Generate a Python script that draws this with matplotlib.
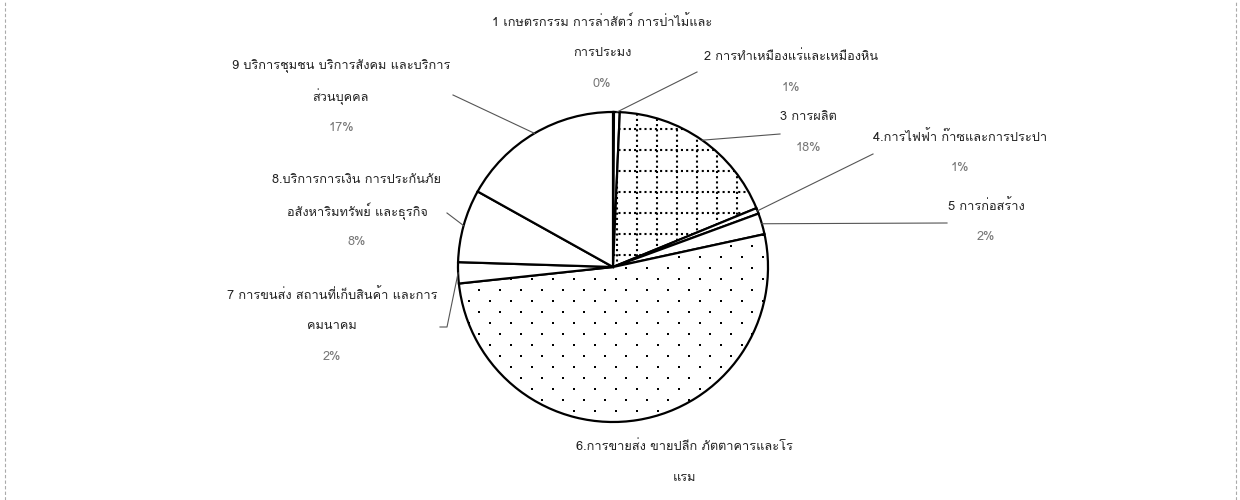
"""
Pie chart: share of establishments by industry group (Thai scanned report figure).
"""

import matplotlib
matplotlib.use("Agg")
import matplotlib.pyplot as plt
import numpy as np
from matplotlib import font_manager, ft2font

# ---- data -------------------------------------------------------------
sectors = [
	"1 เกษตรกรรม การล่าสัตว์ การป่าไม้และ\nการประมง",
	"2 การทำเหมืองแร่และเหมืองหิน",
	"3 การผลิต",
	"4.การไฟฟ้า ก๊าซและการประปา",
	"5 การก่อสร้าง",
	"6.การขายส่ง ขายปลีก ภัตตาคารและโร\nแรม",
	"7 การขนส่ง สถานที่เก็บสินค้า และการ\nคมนาคม",
	"8.บริการการเงิน การประกันภัย\nอสังหาริมทรัพย์ และธุรกิจ",
	"9 บริการชุมชน บริการสังคม และบริการ\nส่วนบุคคล",
]
shares = [0.1, 0.6, 18.1, 0.6, 2.2, 51.7, 2.2, 7.6, 16.9]
show_pct = [True, True, True, True, True, False, True, True, True]

# ---- layout (pixel coords, y measured from the top) --------------------
W, H = 1240, 500
pie_center = (613, 267)
pie_radius = 155
line_step = 31
# centre x / first-line y of every label block
label_pos = [(602, 22), (791, 57), (808, 117), (960, 137), (986, 206),
	(684, 447), (332, 295), (357, 180), (341, 66)]
# leader polylines from the wedge edge to the label
leader_ends = {
	1: [(697, 72)],
	2: [(780, 134)],
	3: [(873, 154)],
	4: [(947, 223)],
	6: [(447, 327), (440, 327)],
	7: [(447, 213)],
	8: [(453, 95)],
}


def find_thai_font():
	for f in font_manager.fontManager.ttflist:
		try:
			if ft2font.FT2Font(f.fname).get_char_index(0x0E01):
				return f.name
		except Exception:
			continue
	return None


thai = find_thai_font()
families = ([thai] if thai else []) + ["DejaVu Sans"]
plt.rcParams["font.family"] = families


def fy(y):
	return H - y


fig = plt.figure(figsize=(W / 100, H / 100), dpi=100)
ax = fig.add_axes([0, 0, 1, 1])

cx, cy = pie_center[0], fy(pie_center[1])
wedges, _ = ax.pie(
	shares,
	center=(cx, cy),
	radius=pie_radius,
	startangle=90,
	counterclock=False,
	colors=["white"] * len(shares),
	wedgeprops=dict(edgecolor="black", linewidth=1.6),
)
ax.set_xlim(0, W)
ax.set_ylim(0, H)
ax.set_aspect("equal")
ax.axis("off")

# dotted grid texture on the manufacturing wedge
grid_wedge = wedges[2]
for gx in np.arange(cx + 4, cx + pie_radius, 20):
	ln, = ax.plot([gx, gx], [cy - 5, cy + pie_radius + 5], color="black",
		linewidth=1.5, linestyle=(0, (1, 1.5)), zorder=0.5)
	ln.set_clip_path(grid_wedge)
for gy in np.arange(cy + 12, cy + pie_radius, 21):
	ln, = ax.plot([cx - 5, cx + pie_radius + 5], [gy, gy], color="black",
		linewidth=1.5, linestyle=(0, (1, 1.5)), zorder=0.5)
	ln.set_clip_path(grid_wedge)

# staggered dot texture on the trade wedge
dx, dy = 21, 11
pts = []
for r, yy in enumerate(np.arange(cy - pie_radius, cy + pie_radius, dy)):
	off = 0 if r % 2 == 0 else dx / 2
	for xx in np.arange(cx - pie_radius + off, cx + pie_radius, dx):
		pts.append((xx, yy))
pts = np.array(pts)
sc = ax.scatter(pts[:, 0], pts[:, 1], s=4, color="black", marker="s", linewidths=0, zorder=0.5)
sc.set_clip_path(wedges[5])
for w in wedges:
	w.set_zorder(0.4)

# leaders
for i, ends in leader_ends.items():
	w = wedges[i]
	mid = np.deg2rad((w.theta1 + w.theta2) / 2)
	xs = [cx + pie_radius * np.cos(mid)] + [p[0] for p in ends]
	ys = [cy + pie_radius * np.sin(mid)] + [fy(p[1]) for p in ends]
	ax.plot(xs, ys, color="#555555", linewidth=0.8, zorder=1)

# labels
for i, (name, share) in enumerate(zip(sectors, shares)):
	lx, ly = label_pos[i]
	lines = name.split("\n")
	if show_pct[i]:
		lines.append(f"{round(share)}%")
	for k, txt in enumerate(lines):
		is_pct = show_pct[i] and k == len(lines) - 1
		ax.text(lx, fy(ly + k * line_step), txt, ha="center", va="center",
			fontsize=9.2, color="#777777" if is_pct else "#222222")

# scanned page frame
for x in (5, 1236):
	ax.plot([x, x], [0, H], color="#aaaaaa", linewidth=0.8, linestyle=(0, (3, 2)))

fig.savefig("out.png", dpi=100)
